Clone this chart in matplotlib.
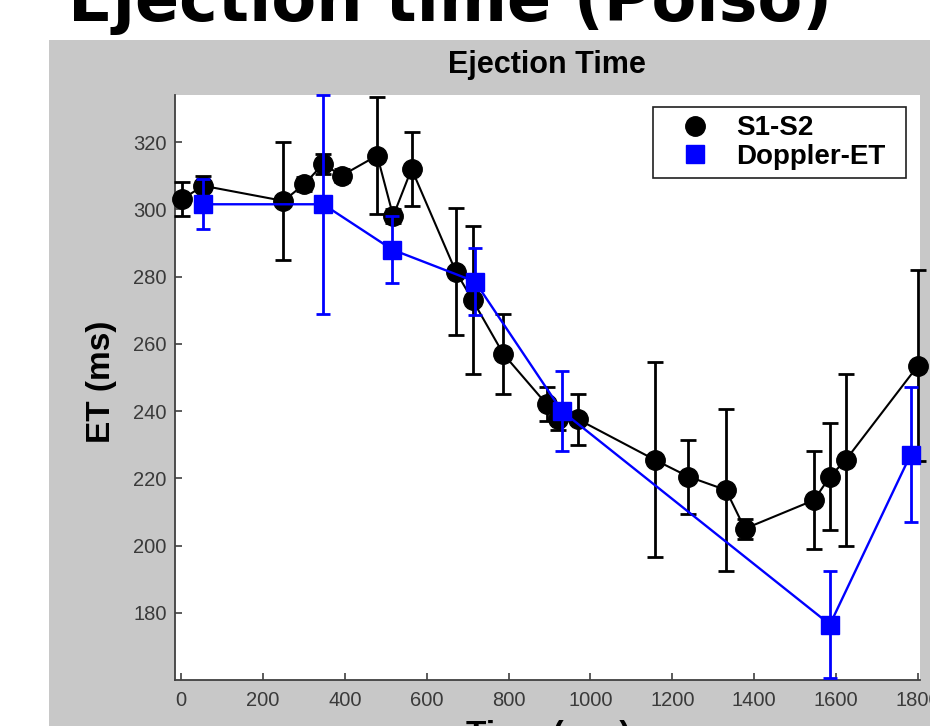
import matplotlib
matplotlib.use("Agg")
import matplotlib.pyplot as plt
from matplotlib.lines import Line2D
from matplotlib.patches import Rectangle

# S1-S2 ejection time (black circles)
s1s2_time = [2, 54, 250, 301, 347, 392, 479, 518, 563, 671, 712, 787,
             893, 921, 970, 1157, 1239, 1331, 1377, 1546, 1585, 1624, 1800]
s1s2_et = [303, 307, 302.5, 307.5, 313.5, 310, 316, 298, 312, 281.5, 273, 257,
           242, 237.5, 237.5, 225.5, 220.5, 216.5, 205, 213.5, 220.5, 225.5, 253.5]
s1s2_err = [5, 3, 17.5, 2, 3, 2, 17.5, 2, 11, 19, 22, 12,
            5, 3, 7.5, 29, 11, 24, 3, 14.5, 16, 25.5, 28.5]

# Doppler ejection time (blue squares)
doppler_time = [54, 347, 516, 718, 930, 1585, 1782]
doppler_et = [301.5, 301.5, 288, 278.5, 240, 176.5, 227]
doppler_err = [7.5, 32.5, 10, 10, 12, 16, 20]

xticks = list(range(0, 1801, 200))
yticks = list(range(180, 321, 20))
legend_labels = ["S1-S2", "Doppler-ET"]

W, H = 930, 726
fig = plt.figure(figsize=(W / 100, H / 100), dpi=100, facecolor="white")

# grey MATLAB-like figure panel, behind the axes
fig.patches.append(Rectangle((49 / W, 0), 1 - 49 / W, 1 - 40 / H,
                             transform=fig.transFigure, facecolor="#c8c8c8",
                             edgecolor="none", zorder=-10))

# slide title, cut off at the top
fig.text(68 / W, 1 - 21 / H, "Ejection time (Polso)", fontsize=47,
         fontweight="bold", family="DejaVu Sans", ha="left", va="baseline")

ax = fig.add_axes([175 / W, 1 - 680 / H, 745 / W, 585 / H])
ax.set_facecolor("white")

ax.errorbar(s1s2_time, s1s2_et, yerr=s1s2_err, color="black", marker="o",
            ms=14, lw=1.5, elinewidth=2, capsize=5.5, capthick=2,
            clip_on=False, zorder=3)
ax.errorbar(doppler_time, doppler_et, yerr=doppler_err, color="#0000ff",
            marker="s", ms=13, lw=1.7, elinewidth=2, capsize=5, capthick=2,
            clip_on=False, zorder=4)

ax.set_xlim(-15, 1805)
ax.set_ylim(160, 334)
ax.set_xticks(xticks)
ax.set_yticks(yticks)
for s in ["top", "right"]:
    ax.spines[s].set_visible(False)
for s in ["left", "bottom"]:
    ax.spines[s].set_color("#404040")
    ax.spines[s].set_linewidth(1.3)
ax.tick_params(direction="in", length=5, width=1.2, color="#404040",
               labelsize=14.5, labelcolor="#3a3a3a")
ax.tick_params(axis="y", pad=6)
ax.tick_params(axis="x", pad=8)
for lab in ax.get_xticklabels() + ax.get_yticklabels():
    lab.set_family("Liberation Sans")

fig.text(547 / W, 1 - 65 / H, "Ejection Time", fontsize=22, fontweight="bold",
         family="Liberation Sans", ha="center", va="center")
fig.text(101 / W, 1 - 382 / H, "ET (ms)", fontsize=24, fontweight="bold",
         family="Liberation Sans", ha="center", va="center", rotation=90)
fig.text(548 / W, 1 - 744 / H, "Time (sec)", fontsize=24, fontweight="bold",
         family="Liberation Sans", ha="center", va="baseline")

handles = [Line2D([], [], color="black", marker="o", ls="none", ms=14),
           Line2D([], [], color="#0000ff", marker="s", ls="none", ms=13)]
leg = ax.legend(handles, legend_labels, loc="upper left",
                bbox_to_anchor=(0.6416, 0.853, 0.3396, 0.1265), mode="expand",
                borderaxespad=0, borderpad=0.3, handlelength=2.4,
                handletextpad=0.3, labelspacing=0.1, fancybox=False,
                edgecolor="#202020", framealpha=1,
                prop={"family": "Liberation Sans", "size": 20, "weight": "bold"})
leg.get_frame().set_linewidth(1.2)

fig.savefig("out.png", dpi=100)
